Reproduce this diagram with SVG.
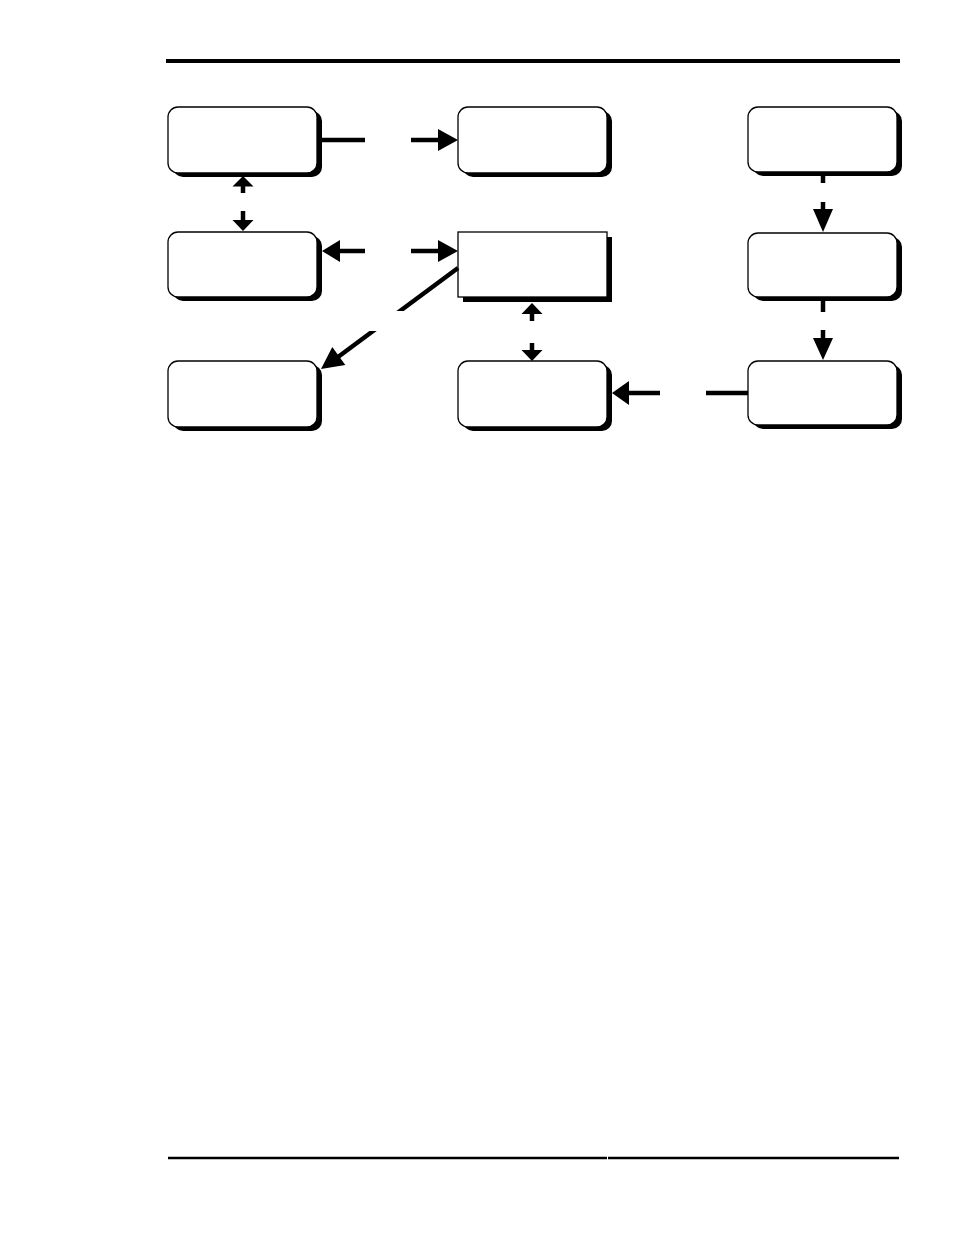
<svg xmlns="http://www.w3.org/2000/svg" width="954" height="1235" viewBox="0 0 954 1235">
<style>
.box{fill:#fff;stroke:#000;stroke-width:1.3}
.shadow{fill:#000}
.ln{stroke:#000;stroke-width:4.5;fill:none}
.hd{fill:#000}
.rule{stroke:#000}
</style>
<defs>
<clipPath id="gapclip">
<rect x="0" y="0" width="954" height="311"/>
<rect x="0" y="331" width="954" height="904"/>
</clipPath>
</defs>
<rect width="954" height="1235" fill="#fff"/>
<g id="rules">
<line class="rule" x1="166" y1="61" x2="900" y2="61" stroke-width="4"/>
<line class="rule" x1="168" y1="1158" x2="607" y2="1158" stroke-width="2.5"/>
<line class="rule" x1="608" y1="1158" x2="899" y2="1158" stroke-width="2.5"/>
</g>
<g id="nodeA"><rect class="shadow" x="173" y="111" width="149" height="66" rx="10"/><rect class="box" x="168" y="107" width="149" height="66" rx="10"/></g>
<g id="nodeB"><rect class="shadow" x="463" y="111" width="149" height="66" rx="10"/><rect class="box" x="458" y="107" width="149" height="66" rx="10"/></g>
<g id="nodeC"><rect class="shadow" x="753" y="111" width="149" height="65" rx="10"/><rect class="box" x="748" y="107" width="149" height="65" rx="10"/></g>
<g id="nodeD"><rect class="shadow" x="173" y="236" width="149" height="65" rx="10"/><rect class="box" x="168" y="232" width="149" height="65" rx="10"/></g>
<g id="nodeE"><rect class="shadow" x="463" y="237" width="149" height="65"/><rect class="box" x="458" y="232" width="149" height="65"/></g>
<g id="nodeF"><rect class="shadow" x="753" y="237" width="149" height="64" rx="10"/><rect class="box" x="748" y="233" width="149" height="64" rx="10"/></g>
<g id="nodeG"><rect class="shadow" x="173" y="365" width="149" height="66" rx="10"/><rect class="box" x="168" y="361" width="149" height="66" rx="10"/></g>
<g id="nodeH"><rect class="shadow" x="463" y="365" width="149" height="66" rx="10"/><rect class="box" x="458" y="361" width="149" height="66" rx="10"/></g>
<g id="nodeI"><rect class="shadow" x="753" y="365" width="149" height="64" rx="10"/><rect class="box" x="748" y="361" width="149" height="64" rx="10"/></g>
<g id="connectors">
<!-- A to B -->
<line class="ln" x1="317" y1="140" x2="365" y2="140"/>
<line class="ln" x1="411" y1="140" x2="440" y2="140"/>
<polygon class="hd" points="438,129 458,140 438,151"/>
<!-- D <-> E -->
<polygon class="hd" points="322,251 340,240 340,262"/>
<line class="ln" x1="338" y1="251" x2="365" y2="251"/>
<line class="ln" x1="411" y1="251" x2="440" y2="251"/>
<polygon class="hd" points="438,240 458,251 438,262"/>
<!-- A <-> D -->
<polygon class="hd" points="243,176 253.5,186.5 232.5,186.5"/>
<line class="ln" x1="243" y1="186" x2="243" y2="193"/>
<line class="ln" x1="243" y1="211" x2="243" y2="221"/>
<polygon class="hd" points="232.5,220 253.5,220 243,231"/>
<!-- E <-> H -->
<polygon class="hd" points="532,303 542.5,314 521.5,314"/>
<line class="ln" x1="532" y1="313" x2="532" y2="321"/>
<line class="ln" x1="532" y1="343" x2="532" y2="351"/>
<polygon class="hd" points="521.5,350 542.5,350 532,361"/>
<!-- C to F -->
<line class="ln" x1="823" y1="176" x2="823" y2="183"/>
<line class="ln" x1="823" y1="202" x2="823" y2="211"/>
<polygon class="hd" points="813,209 833,209 823,232"/>
<!-- F to I -->
<line class="ln" x1="823" y1="301" x2="823" y2="312"/>
<line class="ln" x1="823" y1="330" x2="823" y2="340"/>
<polygon class="hd" points="813,338 833,338 823,360"/>
<!-- I to H -->
<line class="ln" x1="748" y1="393" x2="706" y2="393"/>
<line class="ln" x1="660" y1="393" x2="627" y2="393"/>
<polygon class="hd" points="629,381 629,405 612,393"/>
<!-- E to G -->
<line class="ln" x1="458" y1="268" x2="338" y2="357" stroke-width="5" clip-path="url(#gapclip)"/>
<polygon class="hd" points="321,369 345.3,364.9 332.3,347.1"/>
</g>
</svg>
